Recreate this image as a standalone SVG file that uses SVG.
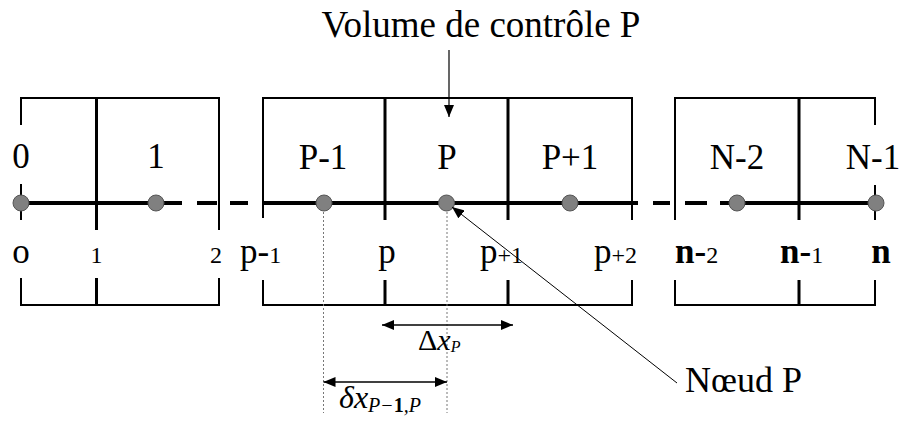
<svg xmlns="http://www.w3.org/2000/svg" width="903" height="425" viewBox="0 0 903 425">
<defs>
<marker id="ah" viewBox="0 0 12 10" refX="12" refY="5" markerWidth="12" markerHeight="10" markerUnits="userSpaceOnUse" orient="auto-start-reverse">
<path d="M0,0 L12,5 L0,10 z" fill="#000"/>
</marker>
</defs>
<style>
text{font-family:'Times New Roman',Times,'Liberation Serif','Nimbus Roman','DejaVu Serif','Noto Serif',FreeSerif,serif;fill:#000}
.big{font-size:35px}
.sm{font-size:24px}
.bx{stroke:#000;stroke-width:2;fill:none}
.dv{stroke:#000;stroke-width:3;fill:none}
.ax{stroke:#000;stroke-width:4;fill:none}
.dot{fill:#808080;stroke:#555;stroke-width:1}
.dt{stroke:#777;stroke-width:1;stroke-dasharray:2,2;fill:none}
.ar{stroke:#000;stroke-width:1.5;fill:none}
</style>
<rect width="903" height="425" fill="#fff"/>
<g id="title">
<text x="481" y="37" font-size="37" text-anchor="middle">Volume de contrôle P</text>
</g>
<g id="box1">
<path class="bx" d="M21,125 V98 H219 V230 M21,184 V220 M21,278 V305 H219 V278"/>
<path class="dv" d="M96.5,98 V230 M96.5,278 V305"/>
<text class="big" x="21" y="168" text-anchor="middle">0</text>
<text class="big" x="156" y="168" text-anchor="middle">1</text>
<text class="big" x="21" y="263" text-anchor="middle">o</text>
<text class="sm" x="96.5" y="263" text-anchor="middle">1</text>
<text class="sm" x="216" y="263" text-anchor="middle">2</text>
</g>
<g id="box2">
<path class="bx" d="M263,218 V98 H632 V220 M263,280 V305 H632 V280"/>
<path class="dv" d="M385,98 V220 M385,280 V305 M508,98 V220 M508,280 V305"/>
<text class="big" x="323" y="169" text-anchor="middle">P-1</text>
<text class="big" x="447" y="169" text-anchor="middle">P</text>
<text class="big" x="570" y="169" text-anchor="middle">P+1</text>
<text x="240" y="263"><tspan class="big">p-</tspan><tspan class="sm">1</tspan></text>
<text class="big" x="387" y="263" text-anchor="middle">p</text>
<text x="480" y="263"><tspan class="big">p</tspan><tspan class="sm">+1</tspan></text>
<text x="594" y="263"><tspan class="big">p</tspan><tspan class="sm">+2</tspan></text>
</g>
<g id="box3">
<path class="bx" d="M675,220 V98 H875 V125 M875,185 V220 M675,280 V305 H875 V280"/>
<path class="dv" d="M799,98 V220 M799,280 V305"/>
<text class="big" x="737" y="169" text-anchor="middle">N-2</text>
<text class="big" x="873" y="169" text-anchor="middle">N-1</text>
<text x="675" y="263"><tspan class="big" font-weight="bold">n-</tspan><tspan class="sm">2</tspan></text>
<text x="780" y="263"><tspan class="big" font-weight="bold">n-</tspan><tspan class="sm">1</tspan></text>
<text class="big" x="881" y="263" text-anchor="middle" font-weight="bold">n</text>
</g>
<g id="axis">
<path class="ax" d="M21,203 H182 M197,203 H217 M230,203 H248 M263,203 H638 M653,203 H670 M685,203 H707 M720,203 H876"/>
</g>
<g id="nodes">
<circle class="dot" cx="21" cy="203" r="8"/>
<circle class="dot" cx="156" cy="203" r="8"/>
<circle class="dot" cx="324" cy="203" r="8"/>
<circle class="dot" cx="446.5" cy="203" r="8"/>
<circle class="dot" cx="570" cy="203" r="8"/>
<circle class="dot" cx="737" cy="203" r="8"/>
<circle class="dot" cx="876" cy="203" r="8"/>
</g>
<g id="connectors">
<path class="dt" d="M323.5,212 V413 M447,212 V413"/>
<line x1="449" y1="50" x2="449" y2="117" stroke="#000" stroke-width="1.2" marker-end="url(#ah)"/>
<line x1="677" y1="383" x2="452" y2="207" stroke="#000" stroke-width="1" marker-end="url(#ah)"/>
<line class="ar" x1="382" y1="325" x2="513" y2="325" marker-start="url(#ah)" marker-end="url(#ah)"/>
<line class="ar" x1="323.5" y1="382" x2="447" y2="382" marker-start="url(#ah)" marker-end="url(#ah)"/>
</g>
<g id="labels">
<text x="418" y="350" font-size="30">Δ<tspan font-style="italic">x</tspan><tspan font-style="italic" font-size="16" dy="2">P</tspan></text>
<text x="339" y="408" font-size="32" font-style="italic">δx<tspan font-size="20" dy="4">P−<tspan font-weight="bold" font-style="normal">1</tspan>,P</tspan></text>
<text x="685" y="392" font-size="36">Nœud P</text>
</g>
</svg>
